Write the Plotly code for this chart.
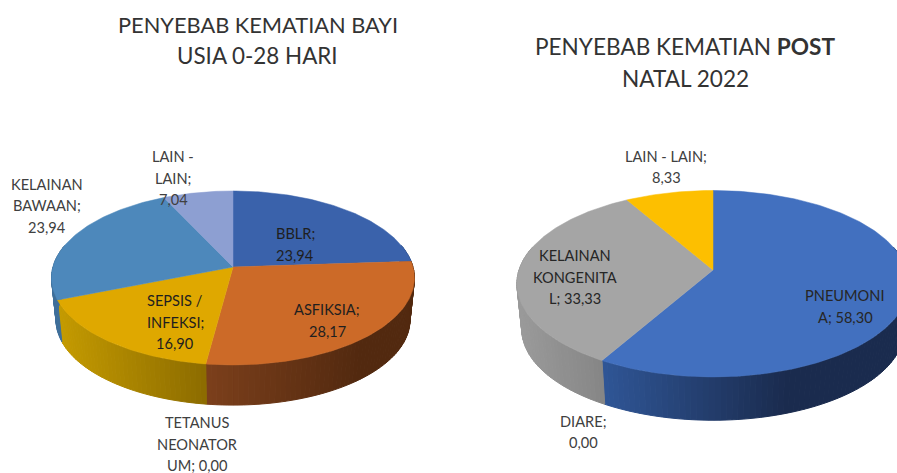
import math
import plotly.graph_objects as go

# ---- data ----
neonatal_labels = ["BBLR", "ASFIKSIA", "TETANUS NEONATORUM", "SEPSIS / INFEKSI", "KELAINAN BAWAAN", "LAIN - LAIN"]
neonatal_values = [23.94, 28.17, 0.00, 16.90, 23.94, 7.04]
neonatal_top = ["#3a62ab", "#cc6a28", "#a5a5a5", "#dfa800", "#4d88bb", "#8d9fd2"]
neonatal_side = [("#2b4a80", "#2b4a80"), ("#7b3f1b", "#52290f"), ("#888888", "#888888"),
                 ("#c49a00", "#8a6a00"), ("#3f6f9a", "#3f6f9a"), ("#6d7ca8", "#6d7ca8")]

post_labels = ["PNEUMONIA", "DIARE", "KELAINAN KONGENITAL", "LAIN - LAIN"]
post_values = [58.30, 0.00, 33.33, 8.33]
post_top = ["#4270bf", "#ed7d31", "#a5a5a5", "#fdbf00"]
post_side = [("#2f5595", "#1a2b4e"), ("#b05a20", "#b05a20"), ("#9a9a9a", "#6e6e6e"), ("#c09000", "#c09000")]

W, H = 897, 473
fig = go.Figure()


def hex_mix(a, b, t):
    t = max(0.0, min(1.0, t))
    ca = [int(a[i:i + 2], 16) for i in (1, 3, 5)]
    cb = [int(b[i:i + 2], 16) for i in (1, 3, 5)]
    return "#%02x%02x%02x" % tuple(round(x + (y - x) * t) for x, y in zip(ca, cb))


def draw_pie(values, top, side, cx, cy, a, b, k, shrink, drop, grad_span):
    total = sum(values)

    def project(theta, lower=False):
        u, v = math.sin(theta), math.cos(theta)
        d = 1 + k * v
        x, y = a * u / d, -b * v / d
        if lower:
            return cx + shrink * x, cy + drop + shrink * y
        return cx + x, cy + y

    cum = 0.0
    spans = []
    for val in values:
        spans.append((cum / total * 2 * math.pi, (cum + val) / total * 2 * math.pi))
        cum += val

    # side wall: vertical strips, only on the part that faces the viewer
    front0, front1 = math.radians(75), math.radians(285)
    for (t0, t1), (c0, c1) in zip(spans, side):
        s0, s1 = max(t0, front0), min(t1, front1)
        if s1 <= s0:
            continue
        n = max(2, int(math.degrees(s1 - s0) / 1.5))
        xs_all = [project(s0 + (s1 - s0) * i / n)[0] for i in range(n + 1)]
        xmin = min(xs_all)
        for i in range(n):
            ta, tb = s0 + (s1 - s0) * i / n, s0 + (s1 - s0) * (i + 1) / n
            p = [project(ta), project(tb), project(tb, True), project(ta, True)]
            frac = (min(q[0] for q in p) - xmin) / grad_span
            col = hex_mix(c0, c1, frac)
            fig.add_trace(go.Scatter(
                x=[q[0] for q in p] + [p[0][0]], y=[q[1] for q in p] + [p[0][1]],
                mode="lines", fill="toself", fillcolor=col, line=dict(color=col, width=1),
                hoverinfo="skip", showlegend=False))

    # top face
    for val, (t0, t1), col in zip(values, spans, top):
        if val <= 0:
            continue
        n = max(2, int(math.degrees(t1 - t0)))
        pts = [project(t0 + (t1 - t0) * i / n) for i in range(n + 1)]
        xs = [cx] + [q[0] for q in pts] + [cx]
        ys = [cy] + [q[1] for q in pts] + [cy]
        fig.add_trace(go.Scatter(x=xs, y=ys, mode="lines", fill="toself", fillcolor=col,
                                 line=dict(color=col, width=0.5), hoverinfo="skip", showlegend=False))


draw_pie(neonatal_values, neonatal_top, neonatal_side, 233, 267, 180, 85.6, 0.126, 0.975, 42.6, 150)
draw_pie(post_values, post_top, post_side, 713, 270, 194, 91.2, 0.147, 0.975, 46, 180)


def label(lines, xc, ys, size=14.6, color="#404040"):
    for line, yc in zip(lines, ys):
        fig.add_annotation(x=xc, y=yc, text=line, showarrow=False, xref="x", yref="y",
                           xanchor="center", yanchor="middle",
                           font=dict(family="Lato, Carlito, sans-serif", size=size, color=color))


label(["PENYEBAB KEMATIAN BAYI"], 258, [24], size=21.8, color="#333333")
label(["USIA 0-28 HARI"], 257, [55], size=22.4, color="#333333")
label(["PENYEBAB KEMATIAN <b>POST</b>", "NATAL 2022"], 685, [46, 78], size=22.6, color="#333333")

label(["LAIN -", "LAIN;", "7,04"], 173, [156, 178, 199])
label(["KELAINAN", "BAWAAN;", "23,94"], 47, [184, 205, 227])
label(["BBLR;", "23,94"], 295, [233, 255], color="#1f1f1f")
label(["ASFIKSIA;", "28,17"], 327, [309, 331], color="#1f1f1f")
label(["SEPSIS /", "INFEKSI;", "16,90"], 175, [300, 322, 343], color="#1f1f1f")
label(["TETANUS", "NEONATOR", "UM; 0,00"], 197, [422, 444, 465])

label(["LAIN - LAIN;", "8,33"], 666, [156, 177])
label(["KELAINAN", "KONGENITA", "L; 33,33"], 575, [255, 277, 298], color="#262626")
label(["PNEUMONI", "A; 58,30"], 845, [295, 317], color="#262626")
label(["DIARE;", "0,00"], 583, [421, 442])

fig.update_layout(
    width=W, height=H, margin=dict(l=0, r=0, t=0, b=0),
    paper_bgcolor="white", plot_bgcolor="white", showlegend=False,
    xaxis=dict(range=[0, W], visible=False, fixedrange=True),
    yaxis=dict(range=[H, 0], visible=False, fixedrange=True),
)
fig.write_html("out.html", config={"displayModeBar": False},
               post_script="document.body.style.margin='0';document.body.style.overflow='hidden';")
